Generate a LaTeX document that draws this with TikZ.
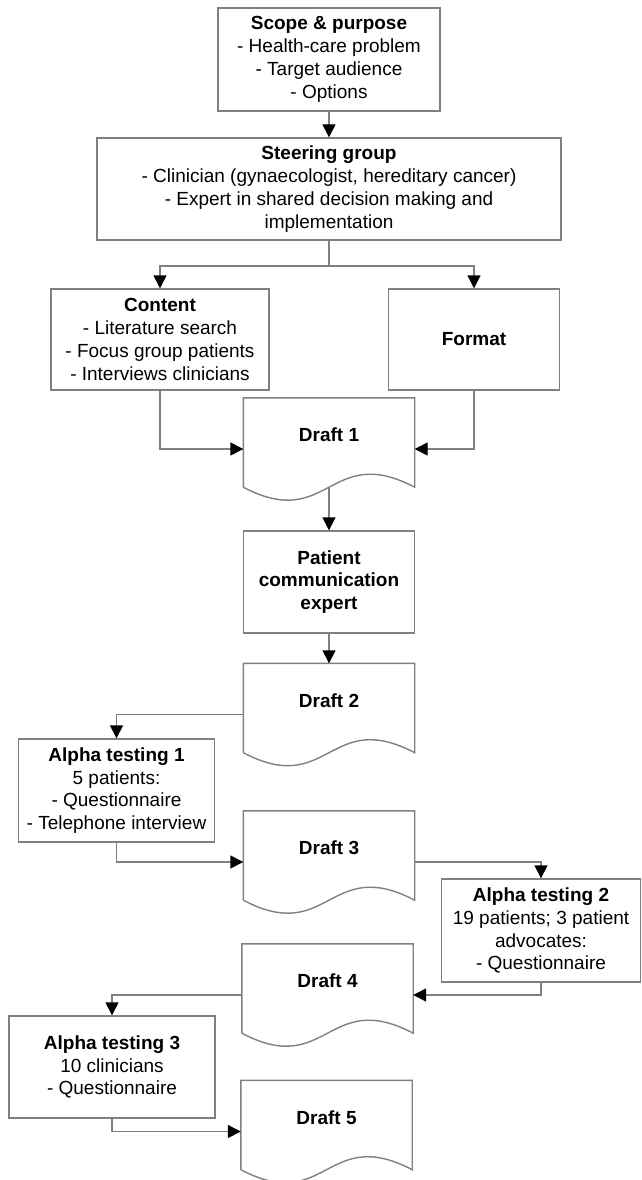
\documentclass[tikz,border=0pt]{standalone}
\usepackage{fontspec}
\setmainfont{Liberation Sans}
\usepackage{tikz}
\usetikzlibrary{arrows.meta}
\definecolor{linegray}{RGB}{128,128,128}
\tikzstyle{block} = [rectangle, draw=linegray, line width=1.4pt, align=center, inner sep=0pt, text=black, font=\fontsize{19}{22.8}\selectfont]
\tikzstyle{draft} = [rectangle, minimum width=171pt, minimum height=89pt, text height=14pt, text depth=15.5pt, inner sep=0pt, text=black, font=\fontsize{19}{22.8}\selectfont\bfseries]
\tikzstyle{line} = [draw=linegray, line width=1.4pt]
\tikzstyle{arrow} = [line, -{Triangle[length=13pt,width=13pt,black]}]

\begin{document}
\begin{tikzpicture}[x=1pt, y=1pt]
		\useasboundingbox (0,0) rectangle (641,-1180);

		\node (scope) [block, minimum width=222pt, minimum height=103pt] at (329,-59.5) {\textbf{Scope \& purpose}\\- Health-care problem\\- Target audience\\- Options};
		\node (steer) [block, minimum width=464pt, minimum height=102pt] at (329,-189) {\textbf{Steering group}\\- Clinician (gynaecologist, hereditary cancer)\\- Expert in shared decision making and\\implementation};
		\node (content) [block, minimum width=218pt, minimum height=101pt] at (160,-339.5) {\textbf{Content}\\- Literature search\\- Focus group patients\\- Interviews clinicians};
		\node (format) [block, minimum width=171pt, minimum height=101pt] at (474,-339.5) {\textbf{Format}};
		\node (d1) [draft] at (329,-442.5) {Draft 1};
		\node (patient) [block, minimum width=171pt, minimum height=102pt] at (329,-582) {\textbf{Patient}\\\textbf{communication}\\\textbf{expert}};
		\node (d2) [draft] at (329,-708) {Draft 2};
		\node (alpha1) [block, minimum width=196pt, minimum height=103pt] at (116.5,-790.5) {\textbf{Alpha testing 1}\\5 patients:\\- Questionnaire\\- Telephone interview};
		\node (d3) [draft] at (329,-855.5) {Draft 3};
		\node (alpha2) [block, minimum width=199pt, minimum height=103pt] at (541,-930.5) {\textbf{Alpha testing 2}\\19 patients; 3 patient\\advocates:\\- Questionnaire};
		\node (d4) [draft] at (327.5,-988.5) {Draft 4};
		\node (alpha3) [block, minimum width=206pt, minimum height=102pt] at (112,-1067) {\textbf{Alpha testing 3}\\10 clinicians\\- Questionnaire};
		\node (d5) [draft] at (326.5,-1125) {Draft 5};
		\coordinate (split) at (329,-266);

		\foreach \d in {d1,d2,d3,d4,d5}
			\draw [line] (\d.south west) -- (\d.north west) -- (\d.north east) -- (\d.south east) .. controls ([yshift=45pt]\d.south) and ([yshift=-45pt]\d.south) .. (\d.south west);

		\draw [arrow] (scope) -- (steer);
		\draw [line] (steer.south) -- (split);
		\draw [arrow] (split) -| (content.north);
		\draw [arrow] (split) -| (format.north);
		\draw [arrow] (content.south) |- ([yshift=-6.5pt]d1.west);
		\draw [arrow] (format.south) |- ([yshift=-6.5pt]d1.east);
		\draw [arrow] (d1.south) -- (patient.north);
		\draw [arrow] (patient.south) -- (d2.north);
		\draw [arrow] ([yshift=-6.5pt]d2.west) -| (alpha1.north);
		\draw [arrow] (alpha1.south) |- ([yshift=-6.5pt]d3.west);
		\draw [arrow] ([yshift=-6.5pt]d3.east) -| (alpha2.north);
		\draw [arrow] (alpha2.south) |- ([yshift=-6.5pt]d4.east);
		\draw [arrow] ([yshift=-6.5pt]d4.west) -| (alpha3.north);
		\draw [arrow] (alpha3.south) |- ([yshift=-6.5pt]d5.west);

	\end{tikzpicture}
\end{document}
